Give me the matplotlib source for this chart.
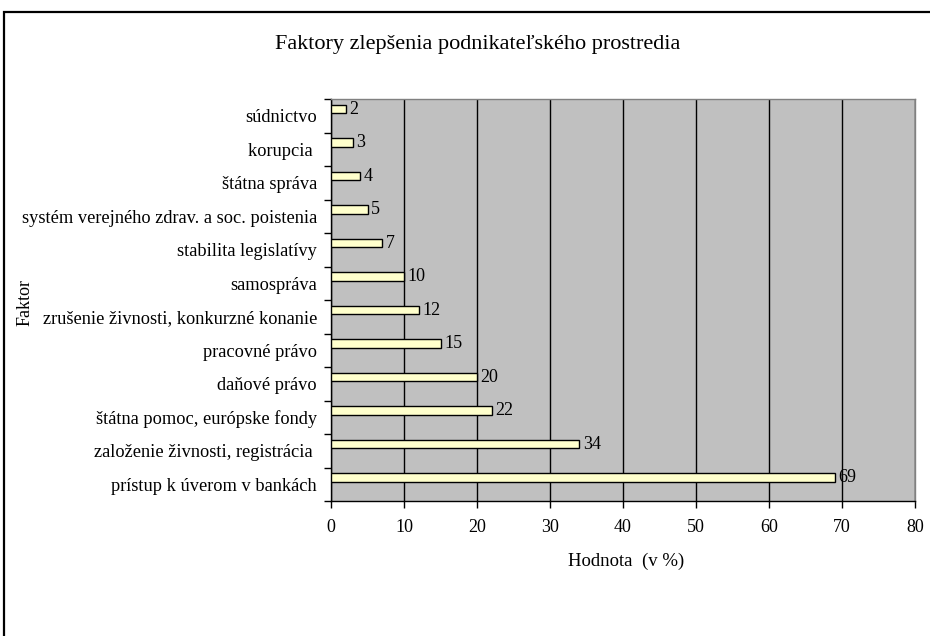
import matplotlib.pyplot as plt
import numpy as np
from matplotlib.patches import Rectangle

plt.rcParams['font.family'] = ['Liberation Serif', 'DejaVu Serif']

# data, top to bottom as in the chart
factors = ["súdnictvo", "korupcia ", "štátna správa",
           "systém verejného zdrav. a soc. poistenia", "stabilita legislatívy",
           "samospráva", "zrušenie živnosti, konkurzné konanie", "pracovné právo",
           "daňové právo", "štátna pomoc, európske fondy",
           "založenie živnosti, registrácia ", "prístup k úverom v bankách"]
values = [2, 3, 4, 5, 7, 10, 12, 15, 20, 22, 34, 69]
xticks = [0, 10, 20, 30, 40, 50, 60, 70, 80]

fig = plt.figure(figsize=(9.3, 6.36), dpi=100)

# outer chart frame (cut at right and bottom)
fig.patches.append(Rectangle((4 / 930, -0.1), 1.2, 1 - 12 / 636 + 0.1,
                             transform=fig.transFigure, fill=False,
                             edgecolor='black', linewidth=1.6))

ax = fig.add_axes([331 / 930, 1 - 501 / 636, (915 - 331) / 930, (501 - 99) / 636])
ax.set_facecolor('#C0C0C0')

pos = np.arange(len(factors))
ax.barh(pos - 0.2, values, height=0.25, color='#FFFFCC', edgecolor='black',
        linewidth=1.0, zorder=3)
for p, v in zip(pos, values):
    ax.text(v + 0.5, p - 0.2, str(v), va='center', ha='left', fontsize=13, zorder=4)

ax.set_xlim(0, 80)
ax.set_ylim(len(factors) - 0.5, -0.5)
ax.set_xticks(xticks)
ax.set_xticklabels([str(t) for t in xticks], fontsize=13)
ax.xaxis.grid(True, color='black', linewidth=1.0, zorder=1)
ax.set_axisbelow(True)

ax.set_yticks(pos)
ax.set_yticklabels(factors, fontsize=13.2)
ax.set_yticks(np.arange(len(factors) + 1) - 0.5, minor=True)
ax.tick_params(axis='y', which='major', length=0, pad=10)
ax.tick_params(axis='y', which='minor', length=5, direction='out', width=1)
ax.tick_params(axis='x', length=5, direction='out', width=1, pad=8)

for s in ['top', 'right']:
    ax.spines[s].set_color('#808080')
    ax.spines[s].set_linewidth(1.0)
for s in ['left', 'bottom']:
    ax.spines[s].set_linewidth(1.0)

fig.text(626 / 930, 1 - 561 / 636, "Hodnota  (v %)", fontsize=13.5,
         ha='center', va='center')
fig.text(25 / 930, 1 - 302 / 636, "Faktor", rotation=90, fontsize=13,
         ha='center', va='center')
fig.text(478 / 930, 1 - 45 / 636, "Faktory zlepšenia podnikateľského prostredia",
         fontsize=16, ha='center', va='center')

fig.savefig("out.png", dpi=100)
